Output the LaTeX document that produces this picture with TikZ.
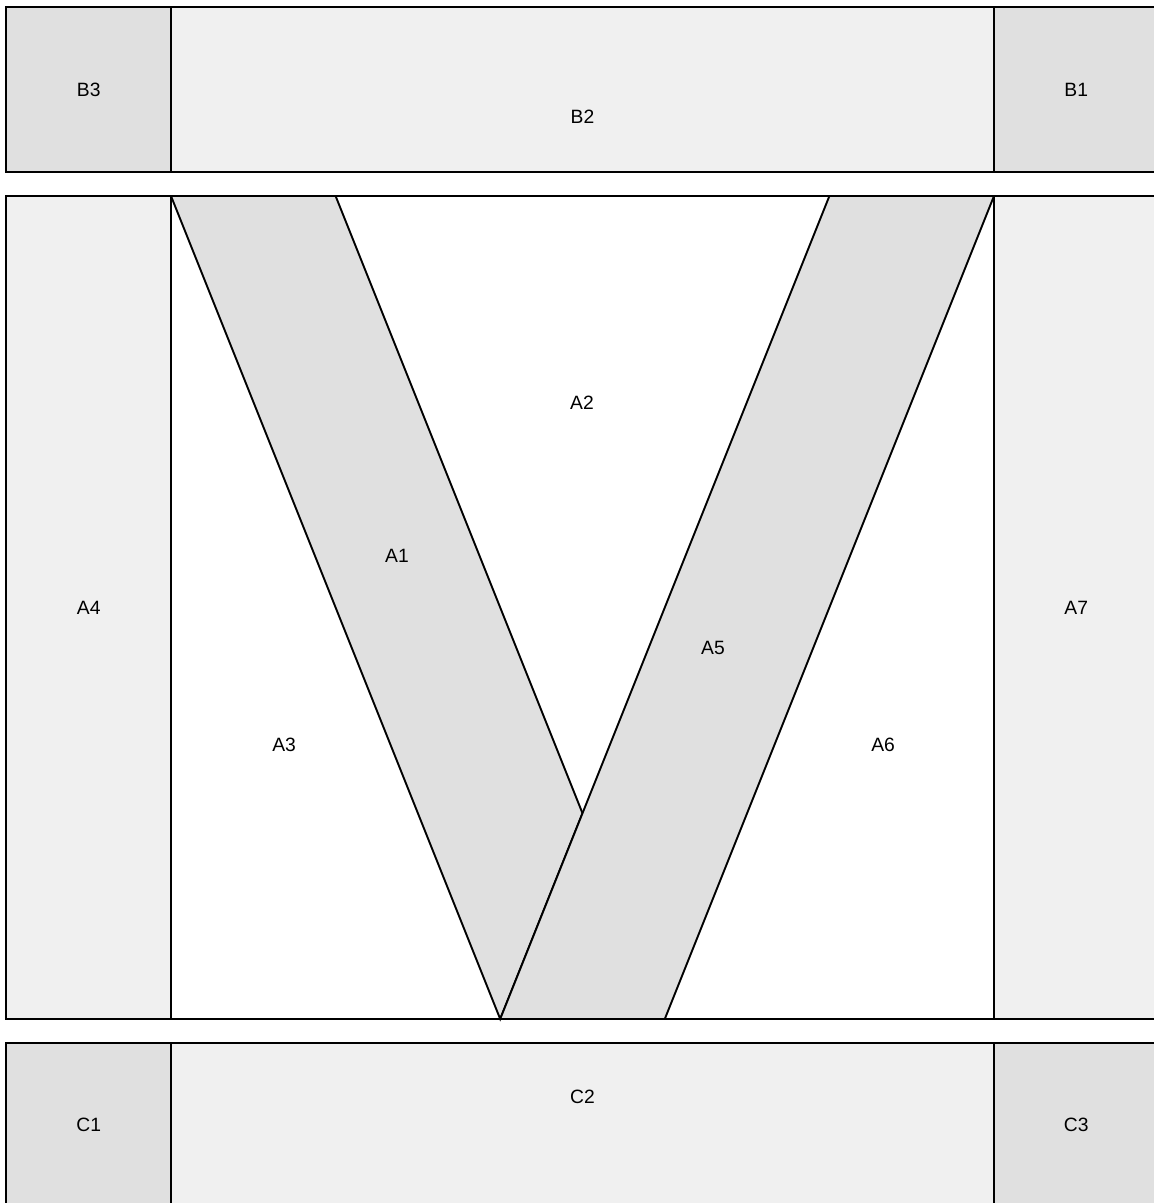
\documentclass[tikz,border=0pt]{standalone}
\usepackage{fontspec}
\setmainfont{Liberation Sans}
\definecolor{darkpatch}{HTML}{E0E0E0}
\definecolor{lightpatch}{HTML}{F0F0F0}

\begin{document}
\begin{tikzpicture}[x=3cm,y=3cm,line width=1pt,line join=miter,
  dark/.style={draw=black,fill=darkpatch},
  light/.style={draw=black,fill=lightpatch},
  lbl/.style={font=\fontsize{10}{12}\selectfont,inner sep=0pt}]
  \clip (-1.039,-1.118) rectangle (5.972,6.191);
  \fill[white] (-1.039,-1.118) rectangle (5.972,6.191);
% top band
\begin{scope}[shift={(0,5.146)}]
  \draw[dark] (-1,0) rectangle (0,1);
  \draw[light] (0,0) rectangle (5,1);
  \draw[dark] (5,0) rectangle (6,1);
  \node[lbl] (b3) at (-0.5,0.5) {B3};
  \node[lbl] (b2) at (2.5,0.334) {B2};
  \node[lbl] (b1) at (5.5,0.5) {B1};
\end{scope}
% middle
  \draw[light] (-1,0) rectangle (0,5);
  \draw[black,fill=white] (0,0) rectangle (5,5);
  \draw[light] (5,0) rectangle (6,5);
  \draw[dark] (0,5)--(1,5)--(2.5,1.25)--(2,0)--cycle;
  \draw[dark] (2,0)--(3,0)--(5,5)--(4,5)--cycle;
  \node[lbl] (a4) at (-0.5,2.5) {A4};
  \node[lbl] (a7) at (5.5,2.5) {A7};
  \node[lbl] (a2) at (2.497,3.742) {A2};
  \node[lbl] (a1) at (1.373,2.813) {A1};
  \node[lbl] (a5) at (3.293,2.254) {A5};
  \node[lbl] (a3) at (0.687,1.665) {A3};
  \node[lbl] (a6) at (4.326,1.665) {A6};
% bottom band
\begin{scope}[shift={(0,-1.146)}]
  \draw[dark] (-1,0) rectangle (0,1);
  \draw[light] (0,0) rectangle (5,1);
  \draw[dark] (5,0) rectangle (6,1);
  \node[lbl] (c1) at (-0.5,0.5) {C1};
  \node[lbl] (c2) at (2.5,0.672) {C2};
  \node[lbl] (c3) at (5.5,0.5) {C3};
\end{scope}
\end{tikzpicture}
\end{document}
